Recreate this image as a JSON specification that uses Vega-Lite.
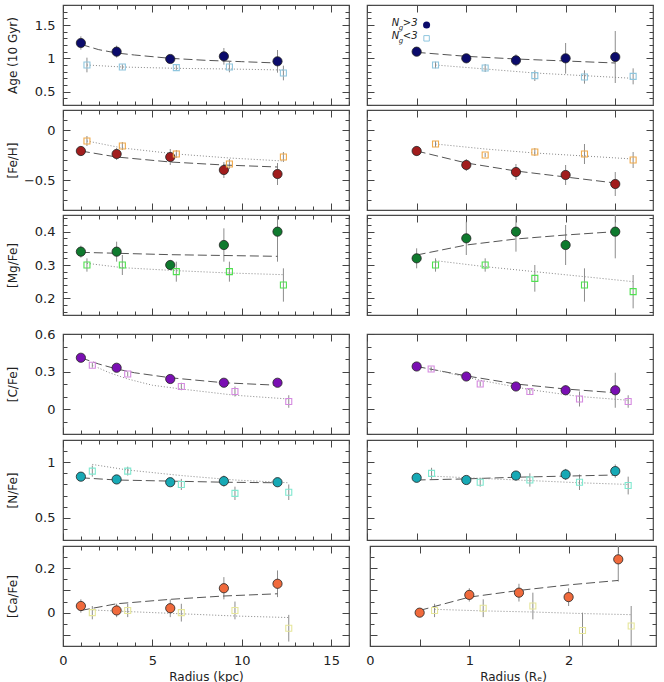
{
"$schema":"https://vega.github.io/schema/vega-lite/v6.json",
"padding":{"left":5,"top":3,"right":8,"bottom":0},
"config":{
 "view":{"stroke":"#4a4a4a","strokeWidth":1.2},
 "axis":{"domain":false,"grid":false,"tickColor":"#444","tickWidth":1,"tickSize":-7,"labelPadding":15,"labelFont":"DejaVu Sans","labelFontSize":13,"labelColor":"#222","titleFont":"DejaVu Sans","titleFontSize":12,"titleFontWeight":"normal","titleColor":"#222","minExtent":0,"titlePadding":4,"labelFlush":false,"labelOverlap":false},
 "axisLeft":{"titlePadding":12}
},
"datasets":{
"pts":[
{"q":"Age","s":"L","g":"hi","x":1,"y":1.23,"lo":1.13,"hi":1.33},
{"q":"Age","s":"L","g":"hi","x":3,"y":1.10,"lo":1.01,"hi":1.19},
{"q":"Age","s":"L","g":"hi","x":6,"y":0.99,"lo":0.95,"hi":1.03},
{"q":"Age","s":"L","g":"hi","x":9,"y":1.03,"lo":0.905,"hi":1.155},
{"q":"Age","s":"L","g":"hi","x":12,"y":0.955,"lo":0.785,"hi":1.125},
{"q":"Age","s":"L","g":"lo","x":1.34,"y":0.90,"lo":0.79,"hi":1.01},
{"q":"Age","s":"L","g":"lo","x":3.32,"y":0.87,"lo":0.83,"hi":0.91},
{"q":"Age","s":"L","g":"lo","x":6.34,"y":0.86,"lo":0.82,"hi":0.90},
{"q":"Age","s":"L","g":"lo","x":9.31,"y":0.87,"lo":0.79,"hi":0.95},
{"q":"Age","s":"L","g":"lo","x":12.33,"y":0.78,"lo":0.67,"hi":0.89},
{"q":"Age","s":"R","g":"hi","x":0.5,"y":1.10,"lo":1.04,"hi":1.16},
{"q":"Age","s":"R","g":"hi","x":1,"y":1.00,"lo":0.97,"hi":1.03},
{"q":"Age","s":"R","g":"hi","x":1.5,"y":0.97,"lo":0.88,"hi":1.06},
{"q":"Age","s":"R","g":"hi","x":2,"y":1.00,"lo":0.77,"hi":1.23},
{"q":"Age","s":"R","g":"hi","x":2.5,"y":1.02,"lo":0.63,"hi":1.41},
{"q":"Age","s":"R","g":"lo","x":0.69,"y":0.90,"lo":0.85,"hi":0.95},
{"q":"Age","s":"R","g":"lo","x":1.19,"y":0.855,"lo":0.795,"hi":0.915},
{"q":"Age","s":"R","g":"lo","x":1.69,"y":0.74,"lo":0.66,"hi":0.82},
{"q":"Age","s":"R","g":"lo","x":2.19,"y":0.72,"lo":0.62,"hi":0.82},
{"q":"Age","s":"R","g":"lo","x":2.68,"y":0.73,"lo":0.61,"hi":0.85},
{"q":"FeH","s":"L","g":"hi","x":1,"y":-0.21,"lo":-0.26,"hi":-0.16},
{"q":"FeH","s":"L","g":"hi","x":3,"y":-0.24,"lo":-0.30,"hi":-0.18},
{"q":"FeH","s":"L","g":"hi","x":6,"y":-0.27,"lo":-0.35,"hi":-0.19},
{"q":"FeH","s":"L","g":"hi","x":9,"y":-0.40,"lo":-0.48,"hi":-0.32},
{"q":"FeH","s":"L","g":"hi","x":12,"y":-0.44,"lo":-0.55,"hi":-0.33},
{"q":"FeH","s":"L","g":"lo","x":1.34,"y":-0.11,"lo":-0.16,"hi":-0.06},
{"q":"FeH","s":"L","g":"lo","x":3.32,"y":-0.16,"lo":-0.20,"hi":-0.12},
{"q":"FeH","s":"L","g":"lo","x":6.34,"y":-0.24,"lo":-0.28,"hi":-0.20},
{"q":"FeH","s":"L","g":"lo","x":9.31,"y":-0.34,"lo":-0.39,"hi":-0.29},
{"q":"FeH","s":"L","g":"lo","x":12.33,"y":-0.27,"lo":-0.32,"hi":-0.22},
{"q":"FeH","s":"R","g":"hi","x":0.5,"y":-0.21,"lo":-0.26,"hi":-0.16},
{"q":"FeH","s":"R","g":"hi","x":1,"y":-0.35,"lo":-0.41,"hi":-0.29},
{"q":"FeH","s":"R","g":"hi","x":1.5,"y":-0.42,"lo":-0.50,"hi":-0.34},
{"q":"FeH","s":"R","g":"hi","x":2,"y":-0.45,"lo":-0.55,"hi":-0.35},
{"q":"FeH","s":"R","g":"hi","x":2.5,"y":-0.54,"lo":-0.66,"hi":-0.42},
{"q":"FeH","s":"R","g":"lo","x":0.69,"y":-0.14,"lo":-0.17,"hi":-0.11},
{"q":"FeH","s":"R","g":"lo","x":1.19,"y":-0.25,"lo":-0.27,"hi":-0.23},
{"q":"FeH","s":"R","g":"lo","x":1.69,"y":-0.22,"lo":-0.26,"hi":-0.18},
{"q":"FeH","s":"R","g":"lo","x":2.19,"y":-0.24,"lo":-0.34,"hi":-0.14},
{"q":"FeH","s":"R","g":"lo","x":2.68,"y":-0.30,"lo":-0.38,"hi":-0.22},
{"q":"MgFe","s":"L","g":"hi","x":1,"y":0.34,"lo":0.322,"hi":0.358},
{"q":"MgFe","s":"L","g":"hi","x":3,"y":0.34,"lo":0.31,"hi":0.37},
{"q":"MgFe","s":"L","g":"hi","x":6,"y":0.30,"lo":0.285,"hi":0.315},
{"q":"MgFe","s":"L","g":"hi","x":9,"y":0.36,"lo":0.31,"hi":0.41},
{"q":"MgFe","s":"L","g":"hi","x":12,"y":0.40,"lo":0.31,"hi":0.49},
{"q":"MgFe","s":"L","g":"lo","x":1.34,"y":0.30,"lo":0.28,"hi":0.32},
{"q":"MgFe","s":"L","g":"lo","x":3.32,"y":0.30,"lo":0.27,"hi":0.33},
{"q":"MgFe","s":"L","g":"lo","x":6.34,"y":0.28,"lo":0.25,"hi":0.31},
{"q":"MgFe","s":"L","g":"lo","x":9.31,"y":0.28,"lo":0.25,"hi":0.31},
{"q":"MgFe","s":"L","g":"lo","x":12.33,"y":0.24,"lo":0.19,"hi":0.29},
{"q":"MgFe","s":"R","g":"hi","x":0.5,"y":0.32,"lo":0.29,"hi":0.35},
{"q":"MgFe","s":"R","g":"hi","x":1,"y":0.38,"lo":0.33,"hi":0.43},
{"q":"MgFe","s":"R","g":"hi","x":1.5,"y":0.40,"lo":0.34,"hi":0.46},
{"q":"MgFe","s":"R","g":"hi","x":2,"y":0.36,"lo":0.30,"hi":0.42},
{"q":"MgFe","s":"R","g":"hi","x":2.5,"y":0.40,"lo":0.32,"hi":0.48},
{"q":"MgFe","s":"R","g":"lo","x":0.69,"y":0.30,"lo":0.28,"hi":0.32},
{"q":"MgFe","s":"R","g":"lo","x":1.19,"y":0.30,"lo":0.28,"hi":0.32},
{"q":"MgFe","s":"R","g":"lo","x":1.69,"y":0.26,"lo":0.22,"hi":0.30},
{"q":"MgFe","s":"R","g":"lo","x":2.19,"y":0.24,"lo":0.19,"hi":0.29},
{"q":"MgFe","s":"R","g":"lo","x":2.68,"y":0.22,"lo":0.17,"hi":0.27},
{"q":"CFe","s":"L","g":"hi","x":1,"y":0.41,"lo":0.39,"hi":0.43},
{"q":"CFe","s":"L","g":"hi","x":3,"y":0.33,"lo":0.31,"hi":0.35},
{"q":"CFe","s":"L","g":"hi","x":6,"y":0.24,"lo":0.22,"hi":0.26},
{"q":"CFe","s":"L","g":"hi","x":9,"y":0.21,"lo":0.19,"hi":0.23},
{"q":"CFe","s":"L","g":"hi","x":12,"y":0.21,"lo":0.19,"hi":0.23},
{"q":"CFe","s":"L","g":"lo","x":1.64,"y":0.35,"lo":0.33,"hi":0.37},
{"q":"CFe","s":"L","g":"lo","x":3.62,"y":0.28,"lo":0.26,"hi":0.30},
{"q":"CFe","s":"L","g":"lo","x":6.62,"y":0.18,"lo":0.15,"hi":0.21},
{"q":"CFe","s":"L","g":"lo","x":9.62,"y":0.14,"lo":0.10,"hi":0.18},
{"q":"CFe","s":"L","g":"lo","x":12.63,"y":0.06,"lo":0.01,"hi":0.11},
{"q":"CFe","s":"R","g":"hi","x":0.5,"y":0.34,"lo":0.32,"hi":0.36},
{"q":"CFe","s":"R","g":"hi","x":1,"y":0.26,"lo":0.24,"hi":0.28},
{"q":"CFe","s":"R","g":"hi","x":1.5,"y":0.18,"lo":0.16,"hi":0.20},
{"q":"CFe","s":"R","g":"hi","x":2,"y":0.15,"lo":0.11,"hi":0.19},
{"q":"CFe","s":"R","g":"hi","x":2.5,"y":0.15,"lo":0.01,"hi":0.29},
{"q":"CFe","s":"R","g":"lo","x":0.646,"y":0.32,"lo":0.30,"hi":0.34},
{"q":"CFe","s":"R","g":"lo","x":1.14,"y":0.20,"lo":0.18,"hi":0.22},
{"q":"CFe","s":"R","g":"lo","x":1.64,"y":0.14,"lo":0.12,"hi":0.16},
{"q":"CFe","s":"R","g":"lo","x":2.14,"y":0.08,"lo":0.02,"hi":0.14},
{"q":"CFe","s":"R","g":"lo","x":2.63,"y":0.06,"lo":0.01,"hi":0.11},
{"q":"NFe","s":"L","g":"hi","x":1,"y":0.87,"lo":0.84,"hi":0.90},
{"q":"NFe","s":"L","g":"hi","x":3,"y":0.845,"lo":0.815,"hi":0.875},
{"q":"NFe","s":"L","g":"hi","x":6,"y":0.82,"lo":0.79,"hi":0.85},
{"q":"NFe","s":"L","g":"hi","x":9,"y":0.83,"lo":0.78,"hi":0.88},
{"q":"NFe","s":"L","g":"hi","x":12,"y":0.82,"lo":0.78,"hi":0.86},
{"q":"NFe","s":"L","g":"lo","x":1.64,"y":0.92,"lo":0.87,"hi":0.97},
{"q":"NFe","s":"L","g":"lo","x":3.62,"y":0.92,"lo":0.88,"hi":0.96},
{"q":"NFe","s":"L","g":"lo","x":6.62,"y":0.80,"lo":0.75,"hi":0.85},
{"q":"NFe","s":"L","g":"lo","x":9.62,"y":0.72,"lo":0.66,"hi":0.78},
{"q":"NFe","s":"L","g":"lo","x":12.63,"y":0.73,"lo":0.66,"hi":0.80},
{"q":"NFe","s":"R","g":"hi","x":0.5,"y":0.86,"lo":0.84,"hi":0.88},
{"q":"NFe","s":"R","g":"hi","x":1,"y":0.84,"lo":0.82,"hi":0.86},
{"q":"NFe","s":"R","g":"hi","x":1.5,"y":0.88,"lo":0.84,"hi":0.92},
{"q":"NFe","s":"R","g":"hi","x":2,"y":0.89,"lo":0.84,"hi":0.94},
{"q":"NFe","s":"R","g":"hi","x":2.5,"y":0.92,"lo":0.86,"hi":0.98},
{"q":"NFe","s":"R","g":"lo","x":0.65,"y":0.90,"lo":0.85,"hi":0.95},
{"q":"NFe","s":"R","g":"lo","x":1.14,"y":0.82,"lo":0.78,"hi":0.86},
{"q":"NFe","s":"R","g":"lo","x":1.64,"y":0.84,"lo":0.78,"hi":0.90},
{"q":"NFe","s":"R","g":"lo","x":2.14,"y":0.82,"lo":0.75,"hi":0.89},
{"q":"NFe","s":"R","g":"lo","x":2.63,"y":0.79,"lo":0.71,"hi":0.87},
{"q":"CaFe","s":"L","g":"hi","x":1,"y":0.03,"lo":0.0,"hi":0.06},
{"q":"CaFe","s":"L","g":"hi","x":3,"y":0.01,"lo":-0.02,"hi":0.04},
{"q":"CaFe","s":"L","g":"hi","x":6,"y":0.02,"lo":-0.02,"hi":0.06},
{"q":"CaFe","s":"L","g":"hi","x":9,"y":0.11,"lo":0.06,"hi":0.16},
{"q":"CaFe","s":"L","g":"hi","x":12,"y":0.13,"lo":0.07,"hi":0.19},
{"q":"CaFe","s":"L","g":"lo","x":1.64,"y":0.0,"lo":-0.03,"hi":0.03},
{"q":"CaFe","s":"L","g":"lo","x":3.62,"y":0.01,"lo":-0.02,"hi":0.04},
{"q":"CaFe","s":"L","g":"lo","x":6.62,"y":0.0,"lo":-0.04,"hi":0.04},
{"q":"CaFe","s":"L","g":"lo","x":9.62,"y":0.01,"lo":-0.03,"hi":0.05},
{"q":"CaFe","s":"L","g":"lo","x":12.63,"y":-0.07,"lo":-0.13,"hi":-0.01},
{"q":"CaFe","s":"R","g":"hi","x":0.5,"y":0.0,"lo":-0.01,"hi":0.01},
{"q":"CaFe","s":"R","g":"hi","x":1,"y":0.08,"lo":0.05,"hi":0.11},
{"q":"CaFe","s":"R","g":"hi","x":1.5,"y":0.09,"lo":0.05,"hi":0.13},
{"q":"CaFe","s":"R","g":"hi","x":2,"y":0.07,"lo":0.03,"hi":0.11},
{"q":"CaFe","s":"R","g":"hi","x":2.5,"y":0.24,"lo":0.14,"hi":0.34},
{"q":"CaFe","s":"R","g":"lo","x":0.65,"y":0.01,"lo":-0.02,"hi":0.04},
{"q":"CaFe","s":"R","g":"lo","x":1.14,"y":0.02,"lo":-0.02,"hi":0.06},
{"q":"CaFe","s":"R","g":"lo","x":1.64,"y":0.03,"lo":-0.03,"hi":0.09},
{"q":"CaFe","s":"R","g":"lo","x":2.14,"y":-0.08,"lo":-0.16,"hi":0.0},
{"q":"CaFe","s":"R","g":"lo","x":2.63,"y":-0.06,"lo":-0.15,"hi":0.03}
],
"fit":[
{"q":"Age","s":"L","g":"hi","x":1,"y":1.21},{"q":"Age","s":"L","g":"hi","x":2,"y":1.13},{"q":"Age","s":"L","g":"hi","x":3,"y":1.08},{"q":"Age","s":"L","g":"hi","x":4,"y":1.05},{"q":"Age","s":"L","g":"hi","x":6,"y":1.00},{"q":"Age","s":"L","g":"hi","x":8,"y":0.97},{"q":"Age","s":"L","g":"hi","x":10,"y":0.95},{"q":"Age","s":"L","g":"hi","x":12,"y":0.93},
{"q":"Age","s":"L","g":"lo","x":1.34,"y":0.90},{"q":"Age","s":"L","g":"lo","x":3.32,"y":0.87},{"q":"Age","s":"L","g":"lo","x":6.34,"y":0.85},{"q":"Age","s":"L","g":"lo","x":9.31,"y":0.84},{"q":"Age","s":"L","g":"lo","x":12.33,"y":0.825},
{"q":"Age","s":"R","g":"hi","x":0.5,"y":1.09},{"q":"Age","s":"R","g":"hi","x":1,"y":1.03},{"q":"Age","s":"R","g":"hi","x":1.5,"y":0.99},{"q":"Age","s":"R","g":"hi","x":2,"y":0.96},{"q":"Age","s":"R","g":"hi","x":2.5,"y":0.93},
{"q":"Age","s":"R","g":"lo","x":0.69,"y":0.90},{"q":"Age","s":"R","g":"lo","x":1.19,"y":0.84},{"q":"Age","s":"R","g":"lo","x":1.69,"y":0.78},{"q":"Age","s":"R","g":"lo","x":2.19,"y":0.74},{"q":"Age","s":"R","g":"lo","x":2.68,"y":0.70},
{"q":"FeH","s":"L","g":"hi","x":1,"y":-0.21},{"q":"FeH","s":"L","g":"hi","x":3,"y":-0.27},{"q":"FeH","s":"L","g":"hi","x":6,"y":-0.32},{"q":"FeH","s":"L","g":"hi","x":9,"y":-0.35},{"q":"FeH","s":"L","g":"hi","x":12,"y":-0.37},
{"q":"FeH","s":"L","g":"lo","x":1.34,"y":-0.11},{"q":"FeH","s":"L","g":"lo","x":3.32,"y":-0.18},{"q":"FeH","s":"L","g":"lo","x":6.34,"y":-0.24},{"q":"FeH","s":"L","g":"lo","x":9.31,"y":-0.28},{"q":"FeH","s":"L","g":"lo","x":12.33,"y":-0.31},
{"q":"FeH","s":"R","g":"hi","x":0.5,"y":-0.21},{"q":"FeH","s":"R","g":"hi","x":1,"y":-0.33},{"q":"FeH","s":"R","g":"hi","x":1.5,"y":-0.41},{"q":"FeH","s":"R","g":"hi","x":2,"y":-0.47},{"q":"FeH","s":"R","g":"hi","x":2.5,"y":-0.53},
{"q":"FeH","s":"R","g":"lo","x":0.69,"y":-0.14},{"q":"FeH","s":"R","g":"lo","x":1.19,"y":-0.19},{"q":"FeH","s":"R","g":"lo","x":1.69,"y":-0.23},{"q":"FeH","s":"R","g":"lo","x":2.19,"y":-0.26},{"q":"FeH","s":"R","g":"lo","x":2.68,"y":-0.29},
{"q":"MgFe","s":"L","g":"hi","x":1,"y":0.338},{"q":"MgFe","s":"L","g":"hi","x":6,"y":0.331},{"q":"MgFe","s":"L","g":"hi","x":12,"y":0.326},
{"q":"MgFe","s":"L","g":"lo","x":1.34,"y":0.305},{"q":"MgFe","s":"L","g":"lo","x":3.32,"y":0.292},{"q":"MgFe","s":"L","g":"lo","x":6.34,"y":0.283},{"q":"MgFe","s":"L","g":"lo","x":9.31,"y":0.276},{"q":"MgFe","s":"L","g":"lo","x":12.33,"y":0.271},
{"q":"MgFe","s":"R","g":"hi","x":0.5,"y":0.33},{"q":"MgFe","s":"R","g":"hi","x":1,"y":0.36},{"q":"MgFe","s":"R","g":"hi","x":1.5,"y":0.378},{"q":"MgFe","s":"R","g":"hi","x":2,"y":0.39},{"q":"MgFe","s":"R","g":"hi","x":2.5,"y":0.40},
{"q":"MgFe","s":"R","g":"lo","x":0.69,"y":0.313},{"q":"MgFe","s":"R","g":"lo","x":1.19,"y":0.295},{"q":"MgFe","s":"R","g":"lo","x":1.69,"y":0.28},{"q":"MgFe","s":"R","g":"lo","x":2.19,"y":0.265},{"q":"MgFe","s":"R","g":"lo","x":2.68,"y":0.25},
{"q":"CFe","s":"L","g":"hi","x":1,"y":0.41},{"q":"CFe","s":"L","g":"hi","x":2,"y":0.36},{"q":"CFe","s":"L","g":"hi","x":3,"y":0.32},{"q":"CFe","s":"L","g":"hi","x":4,"y":0.29},{"q":"CFe","s":"L","g":"hi","x":6,"y":0.25},{"q":"CFe","s":"L","g":"hi","x":9,"y":0.21},{"q":"CFe","s":"L","g":"hi","x":12,"y":0.19},
{"q":"CFe","s":"L","g":"lo","x":1.64,"y":0.35},{"q":"CFe","s":"L","g":"lo","x":2.6,"y":0.29},{"q":"CFe","s":"L","g":"lo","x":3.62,"y":0.24},{"q":"CFe","s":"L","g":"lo","x":5,"y":0.19},{"q":"CFe","s":"L","g":"lo","x":6.62,"y":0.16},{"q":"CFe","s":"L","g":"lo","x":9.62,"y":0.11},{"q":"CFe","s":"L","g":"lo","x":12.63,"y":0.08},
{"q":"CFe","s":"R","g":"hi","x":0.5,"y":0.34},{"q":"CFe","s":"R","g":"hi","x":1,"y":0.265},{"q":"CFe","s":"R","g":"hi","x":1.5,"y":0.20},{"q":"CFe","s":"R","g":"hi","x":2,"y":0.16},{"q":"CFe","s":"R","g":"hi","x":2.5,"y":0.13},
{"q":"CFe","s":"R","g":"lo","x":0.646,"y":0.32},{"q":"CFe","s":"R","g":"lo","x":1.14,"y":0.23},{"q":"CFe","s":"R","g":"lo","x":1.64,"y":0.155},{"q":"CFe","s":"R","g":"lo","x":2.14,"y":0.10},{"q":"CFe","s":"R","g":"lo","x":2.63,"y":0.07},
{"q":"NFe","s":"L","g":"hi","x":1,"y":0.86},{"q":"NFe","s":"L","g":"hi","x":3,"y":0.84},{"q":"NFe","s":"L","g":"hi","x":6,"y":0.83},{"q":"NFe","s":"L","g":"hi","x":9,"y":0.82},{"q":"NFe","s":"L","g":"hi","x":12,"y":0.815},
{"q":"NFe","s":"L","g":"lo","x":1.64,"y":0.98},{"q":"NFe","s":"L","g":"lo","x":3.62,"y":0.93},{"q":"NFe","s":"L","g":"lo","x":6.62,"y":0.88},{"q":"NFe","s":"L","g":"lo","x":9.62,"y":0.84},{"q":"NFe","s":"L","g":"lo","x":12.63,"y":0.815},
{"q":"NFe","s":"R","g":"hi","x":0.5,"y":0.84},{"q":"NFe","s":"R","g":"hi","x":1,"y":0.85},{"q":"NFe","s":"R","g":"hi","x":1.5,"y":0.865},{"q":"NFe","s":"R","g":"hi","x":2,"y":0.875},{"q":"NFe","s":"R","g":"hi","x":2.5,"y":0.885},
{"q":"NFe","s":"R","g":"lo","x":0.65,"y":0.875},{"q":"NFe","s":"R","g":"lo","x":1.14,"y":0.855},{"q":"NFe","s":"R","g":"lo","x":1.64,"y":0.835},{"q":"NFe","s":"R","g":"lo","x":2.14,"y":0.815},{"q":"NFe","s":"R","g":"lo","x":2.63,"y":0.80},
{"q":"CaFe","s":"L","g":"hi","x":1,"y":0.01},{"q":"CaFe","s":"L","g":"hi","x":3,"y":0.04},{"q":"CaFe","s":"L","g":"hi","x":6,"y":0.06},{"q":"CaFe","s":"L","g":"hi","x":9,"y":0.075},{"q":"CaFe","s":"L","g":"hi","x":12,"y":0.085},
{"q":"CaFe","s":"L","g":"lo","x":1.64,"y":0.012},{"q":"CaFe","s":"L","g":"lo","x":3.62,"y":0.005},{"q":"CaFe","s":"L","g":"lo","x":6.62,"y":-0.005},{"q":"CaFe","s":"L","g":"lo","x":9.62,"y":-0.015},{"q":"CaFe","s":"L","g":"lo","x":12.63,"y":-0.022},
{"q":"CaFe","s":"R","g":"hi","x":0.5,"y":0.01},{"q":"CaFe","s":"R","g":"hi","x":1,"y":0.07},{"q":"CaFe","s":"R","g":"hi","x":1.5,"y":0.10},{"q":"CaFe","s":"R","g":"hi","x":2,"y":0.125},{"q":"CaFe","s":"R","g":"hi","x":2.5,"y":0.145},
{"q":"CaFe","s":"R","g":"lo","x":0.65,"y":0.015},{"q":"CaFe","s":"R","g":"lo","x":1.14,"y":0.008},{"q":"CaFe","s":"R","g":"lo","x":1.64,"y":0.003},{"q":"CaFe","s":"R","g":"lo","x":2.14,"y":-0.004},{"q":"CaFe","s":"R","g":"lo","x":2.63,"y":-0.009}
],
"leg":[
{"k":"t","t":"N","x":0.25,"y":1.53},{"k":"u","t":"g","x":0.32,"y":1.455},{"k":"t","t":">3","x":0.36,"y":1.53},
{"k":"t","t":"N","x":0.25,"y":1.33},{"k":"u","t":"g","x":0.32,"y":1.255},{"k":"t","t":"<3","x":0.36,"y":1.33},
{"k":"c","t":"","x":0.6,"y":1.50},{"k":"s","t":"","x":0.6,"y":1.30}
]
},
"spacing":10,
"vconcat":[
{"spacing":1,"vconcat":[
{"spacing":14,"hconcat":[
{"width":286,"height":100,"resolve":{"axis":{"x":"independent","y":"independent"}},"layer":[
{"data":{"name":"pts"},"transform":[{"filter":"datum.q==='Age'&&datum.s==='L'"}],"mark":{"type":"rule","color":"#8c8c8c","strokeWidth":1,"clip":true},
 "encoding":{"x":{"field":"x","type":"quantitative","scale":{"domain":[0,16],"nice":false,"zero":false},"axis":{"orient":"bottom","values":[0,5,10,15],"labels":false,"title":null}},
 "y":{"field":"lo","type":"quantitative","scale":{"domain":[0.3,1.8],"nice":false,"zero":false},"axis":{"orient":"left","values":[0.5,1,1.5],"format":"~g","title":"Age (10 Gyr)","minExtent":32,"maxExtent":32}},"y2":{"field":"hi"}}},
{"data":{"name":"fit"},"transform":[{"filter":"datum.q==='Age'&&datum.s==='L'&&datum.g==='hi'"}],"mark":{"type":"line","color":"#555","strokeWidth":1,"strokeDash":[9,4],"clip":true},
 "encoding":{"x":{"field":"x","type":"quantitative","axis":{"orient":"top","values":[0,5,10,15],"labels":false,"title":null}},"y":{"field":"y","type":"quantitative","axis":{"orient":"right","values":[0.5,1,1.5],"labels":false,"title":null}}}},
{"data":{"name":"fit"},"transform":[{"filter":"datum.q==='Age'&&datum.s==='L'&&datum.g==='lo'"}],"mark":{"type":"line","color":"#888","strokeWidth":1,"strokeDash":[1,2],"clip":true},
 "encoding":{"x":{"field":"x","type":"quantitative","axis":{"orient":"bottom","values":[0,1,2,3,4,5,6,7,8,9,10,11,12,13,14,15,16],"labels":false,"title":null,"tickSize":-4}},"y":{"field":"y","type":"quantitative","axis":{"orient":"left","values":[0.3,0.4,0.5,0.6,0.7,0.8,0.9,1,1.1,1.2,1.3,1.4,1.5,1.6,1.7,1.8],"labels":false,"title":null,"tickSize":-4}}}},
{"data":{"name":"pts"},"transform":[{"filter":"datum.q==='Age'&&datum.s==='L'&&datum.g==='hi'"}],"mark":{"type":"circle","size":85,"color":"#0b0b6b","opacity":1,"stroke":"#222","strokeWidth":0.8},
 "encoding":{"x":{"field":"x","type":"quantitative","axis":{"orient":"top","values":[0,1,2,3,4,5,6,7,8,9,10,11,12,13,14,15,16],"labels":false,"title":null,"tickSize":-4}},"y":{"field":"y","type":"quantitative","axis":{"orient":"right","values":[0.3,0.4,0.5,0.6,0.7,0.8,0.9,1,1.1,1.2,1.3,1.4,1.5,1.6,1.7,1.8],"labels":false,"title":null,"tickSize":-4}}}},
{"data":{"name":"pts"},"transform":[{"filter":"datum.q==='Age'&&datum.s==='L'&&datum.g==='lo'"}],"mark":{"type":"square","filled":false,"size":36,"color":"#8fc6de","opacity":1,"strokeWidth":1.1},
 "encoding":{"x":{"field":"x","type":"quantitative","axis":null},"y":{"field":"y","type":"quantitative","axis":null}}}
]},
{"width":286,"height":100,"resolve":{"axis":{"x":"independent","y":"independent"}},"layer":[
{"data":{"name":"pts"},"transform":[{"filter":"datum.q==='Age'&&datum.s==='R'"}],"mark":{"type":"rule","color":"#8c8c8c","strokeWidth":1,"clip":true},
 "encoding":{"x":{"field":"x","type":"quantitative","scale":{"domain":[0,2.88],"nice":false,"zero":false},"axis":{"orient":"bottom","values":[0,0.5,1,1.5,2,2.5],"labels":false,"title":null}},
 "y":{"field":"lo","type":"quantitative","scale":{"domain":[0.3,1.8],"nice":false,"zero":false},"axis":{"orient":"left","values":[0.5,1,1.5],"labels":false,"title":null}},"y2":{"field":"hi"}}},
{"data":{"name":"fit"},"transform":[{"filter":"datum.q==='Age'&&datum.s==='R'&&datum.g==='hi'"}],"mark":{"type":"line","color":"#555","strokeWidth":1,"strokeDash":[9,4],"clip":true},
 "encoding":{"x":{"field":"x","type":"quantitative","axis":{"orient":"top","values":[0,0.5,1,1.5,2,2.5],"labels":false,"title":null}},"y":{"field":"y","type":"quantitative","axis":{"orient":"right","values":[0.5,1,1.5],"labels":false,"title":null}}}},
{"data":{"name":"fit"},"transform":[{"filter":"datum.q==='Age'&&datum.s==='R'&&datum.g==='lo'"}],"mark":{"type":"line","color":"#888","strokeWidth":1,"strokeDash":[1,2],"clip":true},
 "encoding":{"x":{"field":"x","type":"quantitative","axis":null},"y":{"field":"y","type":"quantitative","axis":{"orient":"left","values":[0.3,0.4,0.5,0.6,0.7,0.8,0.9,1,1.1,1.2,1.3,1.4,1.5,1.6,1.7,1.8],"labels":false,"title":null,"tickSize":-4}}}},
{"data":{"name":"pts"},"transform":[{"filter":"datum.q==='Age'&&datum.s==='R'&&datum.g==='hi'"}],"mark":{"type":"circle","size":85,"color":"#0b0b6b","opacity":1,"stroke":"#222","strokeWidth":0.8},
 "encoding":{"x":{"field":"x","type":"quantitative","axis":null},"y":{"field":"y","type":"quantitative","axis":{"orient":"right","values":[0.3,0.4,0.5,0.6,0.7,0.8,0.9,1,1.1,1.2,1.3,1.4,1.5,1.6,1.7,1.8],"labels":false,"title":null,"tickSize":-4}}}},
{"data":{"name":"pts"},"transform":[{"filter":"datum.q==='Age'&&datum.s==='R'&&datum.g==='lo'"}],"mark":{"type":"square","filled":false,"size":36,"color":"#8fc6de","opacity":1,"strokeWidth":1.1},
 "encoding":{"x":{"field":"x","type":"quantitative","axis":null},"y":{"field":"y","type":"quantitative","axis":null}}},
{"data":{"name":"leg"},"transform":[{"filter":"datum.k==='t'"}],"mark":{"type":"text","font":"DejaVu Sans","fontStyle":"italic","fontSize":10,"align":"left","baseline":"middle","color":"#222"},
 "encoding":{"x":{"field":"x","type":"quantitative","axis":null},"y":{"field":"y","type":"quantitative","axis":null},"text":{"field":"t"}}},
{"data":{"name":"leg"},"transform":[{"filter":"datum.k==='u'"}],"mark":{"type":"text","font":"DejaVu Sans","fontStyle":"italic","fontSize":7,"align":"left","baseline":"middle","color":"#222"},
 "encoding":{"x":{"field":"x","type":"quantitative","axis":null},"y":{"field":"y","type":"quantitative","axis":null},"text":{"field":"t"}}},
{"data":{"name":"leg"},"transform":[{"filter":"datum.k==='c'"}],"mark":{"type":"circle","size":50,"color":"#0b0b6b","opacity":1},
 "encoding":{"x":{"field":"x","type":"quantitative","axis":null},"y":{"field":"y","type":"quantitative","axis":null}}},
{"data":{"name":"leg"},"transform":[{"filter":"datum.k==='s'"}],"mark":{"type":"square","filled":false,"size":30,"color":"#8fc6de","opacity":1,"strokeWidth":1},
 "encoding":{"x":{"field":"x","type":"quantitative","axis":null},"y":{"field":"y","type":"quantitative","axis":null}}}
]}
]},
{"spacing":14,"hconcat":[
{"width":286,"height":100,"resolve":{"axis":{"x":"independent","y":"independent"}},"layer":[
{"data":{"name":"pts"},"transform":[{"filter":"datum.q==='FeH'&&datum.s==='L'"}],"mark":{"type":"rule","color":"#8c8c8c","strokeWidth":1,"clip":true},
 "encoding":{"x":{"field":"x","type":"quantitative","scale":{"domain":[0,16],"nice":false,"zero":false},"axis":{"orient":"bottom","values":[0,5,10,15],"labels":false,"title":null}},
 "y":{"field":"lo","type":"quantitative","scale":{"domain":[-0.8,0.2],"nice":false,"zero":false},"axis":{"orient":"left","values":[-0.5,0],"format":"~g","title":"[Fe/H]","minExtent":32,"maxExtent":32}},"y2":{"field":"hi"}}},
{"data":{"name":"fit"},"transform":[{"filter":"datum.q==='FeH'&&datum.s==='L'&&datum.g==='hi'"}],"mark":{"type":"line","color":"#555","strokeWidth":1,"strokeDash":[9,4],"clip":true},
 "encoding":{"x":{"field":"x","type":"quantitative","axis":{"orient":"top","values":[0,5,10,15],"labels":false,"title":null}},"y":{"field":"y","type":"quantitative","axis":{"orient":"right","values":[-0.5,0],"labels":false,"title":null}}}},
{"data":{"name":"fit"},"transform":[{"filter":"datum.q==='FeH'&&datum.s==='L'&&datum.g==='lo'"}],"mark":{"type":"line","color":"#888","strokeWidth":1,"strokeDash":[1,2],"clip":true},
 "encoding":{"x":{"field":"x","type":"quantitative","axis":{"orient":"bottom","values":[0,1,2,3,4,5,6,7,8,9,10,11,12,13,14,15,16],"labels":false,"title":null,"tickSize":-4}},"y":{"field":"y","type":"quantitative","axis":{"orient":"left","values":[-0.8,-0.7,-0.6,-0.5,-0.4,-0.3,-0.2,-0.1,0,0.1,0.2],"labels":false,"title":null,"tickSize":-4}}}},
{"data":{"name":"pts"},"transform":[{"filter":"datum.q==='FeH'&&datum.s==='L'&&datum.g==='hi'"}],"mark":{"type":"circle","size":85,"color":"#a11d1d","opacity":1,"stroke":"#222","strokeWidth":0.8},
 "encoding":{"x":{"field":"x","type":"quantitative","axis":{"orient":"top","values":[0,1,2,3,4,5,6,7,8,9,10,11,12,13,14,15,16],"labels":false,"title":null,"tickSize":-4}},"y":{"field":"y","type":"quantitative","axis":{"orient":"right","values":[-0.8,-0.7,-0.6,-0.5,-0.4,-0.3,-0.2,-0.1,0,0.1,0.2],"labels":false,"title":null,"tickSize":-4}}}},
{"data":{"name":"pts"},"transform":[{"filter":"datum.q==='FeH'&&datum.s==='L'&&datum.g==='lo'"}],"mark":{"type":"square","filled":false,"size":36,"color":"#f0a94a","opacity":1,"strokeWidth":1.1},
 "encoding":{"x":{"field":"x","type":"quantitative","axis":null},"y":{"field":"y","type":"quantitative","axis":null}}}
]},
{"width":286,"height":100,"resolve":{"axis":{"x":"independent","y":"independent"}},"layer":[
{"data":{"name":"pts"},"transform":[{"filter":"datum.q==='FeH'&&datum.s==='R'"}],"mark":{"type":"rule","color":"#8c8c8c","strokeWidth":1,"clip":true},
 "encoding":{"x":{"field":"x","type":"quantitative","scale":{"domain":[0,2.88],"nice":false,"zero":false},"axis":{"orient":"bottom","values":[0,0.5,1,1.5,2,2.5],"labels":false,"title":null}},
 "y":{"field":"lo","type":"quantitative","scale":{"domain":[-0.8,0.2],"nice":false,"zero":false},"axis":{"orient":"left","values":[-0.5,0],"labels":false,"title":null}},"y2":{"field":"hi"}}},
{"data":{"name":"fit"},"transform":[{"filter":"datum.q==='FeH'&&datum.s==='R'&&datum.g==='hi'"}],"mark":{"type":"line","color":"#555","strokeWidth":1,"strokeDash":[9,4],"clip":true},
 "encoding":{"x":{"field":"x","type":"quantitative","axis":{"orient":"top","values":[0,0.5,1,1.5,2,2.5],"labels":false,"title":null}},"y":{"field":"y","type":"quantitative","axis":{"orient":"right","values":[-0.5,0],"labels":false,"title":null}}}},
{"data":{"name":"fit"},"transform":[{"filter":"datum.q==='FeH'&&datum.s==='R'&&datum.g==='lo'"}],"mark":{"type":"line","color":"#888","strokeWidth":1,"strokeDash":[1,2],"clip":true},
 "encoding":{"x":{"field":"x","type":"quantitative","axis":null},"y":{"field":"y","type":"quantitative","axis":{"orient":"left","values":[-0.8,-0.7,-0.6,-0.5,-0.4,-0.3,-0.2,-0.1,0,0.1,0.2],"labels":false,"title":null,"tickSize":-4}}}},
{"data":{"name":"pts"},"transform":[{"filter":"datum.q==='FeH'&&datum.s==='R'&&datum.g==='hi'"}],"mark":{"type":"circle","size":85,"color":"#a11d1d","opacity":1,"stroke":"#222","strokeWidth":0.8},
 "encoding":{"x":{"field":"x","type":"quantitative","axis":null},"y":{"field":"y","type":"quantitative","axis":{"orient":"right","values":[-0.8,-0.7,-0.6,-0.5,-0.4,-0.3,-0.2,-0.1,0,0.1,0.2],"labels":false,"title":null,"tickSize":-4}}}},
{"data":{"name":"pts"},"transform":[{"filter":"datum.q==='FeH'&&datum.s==='R'&&datum.g==='lo'"}],"mark":{"type":"square","filled":false,"size":36,"color":"#f0a94a","opacity":1,"strokeWidth":1.1},
 "encoding":{"x":{"field":"x","type":"quantitative","axis":null},"y":{"field":"y","type":"quantitative","axis":null}}}
]}
]},
{"spacing":14,"hconcat":[
{"width":286,"height":100,"resolve":{"axis":{"x":"independent","y":"independent"}},"layer":[
{"data":{"name":"pts"},"transform":[{"filter":"datum.q==='MgFe'&&datum.s==='L'"}],"mark":{"type":"rule","color":"#8c8c8c","strokeWidth":1,"clip":true},
 "encoding":{"x":{"field":"x","type":"quantitative","scale":{"domain":[0,16],"nice":false,"zero":false},"axis":{"orient":"bottom","values":[0,5,10,15],"labels":false,"title":null}},
 "y":{"field":"lo","type":"quantitative","scale":{"domain":[0.15,0.45],"nice":false,"zero":false},"axis":{"orient":"left","values":[0.2,0.3,0.4],"format":"~g","title":"[Mg/Fe]","minExtent":32,"maxExtent":32}},"y2":{"field":"hi"}}},
{"data":{"name":"fit"},"transform":[{"filter":"datum.q==='MgFe'&&datum.s==='L'&&datum.g==='hi'"}],"mark":{"type":"line","color":"#555","strokeWidth":1,"strokeDash":[9,4],"clip":true},
 "encoding":{"x":{"field":"x","type":"quantitative","axis":{"orient":"top","values":[0,5,10,15],"labels":false,"title":null}},"y":{"field":"y","type":"quantitative","axis":{"orient":"right","values":[0.2,0.3,0.4],"labels":false,"title":null}}}},
{"data":{"name":"fit"},"transform":[{"filter":"datum.q==='MgFe'&&datum.s==='L'&&datum.g==='lo'"}],"mark":{"type":"line","color":"#888","strokeWidth":1,"strokeDash":[1,2],"clip":true},
 "encoding":{"x":{"field":"x","type":"quantitative","axis":{"orient":"bottom","values":[0,1,2,3,4,5,6,7,8,9,10,11,12,13,14,15,16],"labels":false,"title":null,"tickSize":-4}},"y":{"field":"y","type":"quantitative","axis":{"orient":"left","values":[0.16,0.18,0.2,0.22,0.24,0.26,0.28,0.3,0.32,0.34,0.36,0.38,0.4,0.42,0.44],"labels":false,"title":null,"tickSize":-4}}}},
{"data":{"name":"pts"},"transform":[{"filter":"datum.q==='MgFe'&&datum.s==='L'&&datum.g==='hi'"}],"mark":{"type":"circle","size":85,"color":"#0f7a2e","opacity":1,"stroke":"#222","strokeWidth":0.8},
 "encoding":{"x":{"field":"x","type":"quantitative","axis":{"orient":"top","values":[0,1,2,3,4,5,6,7,8,9,10,11,12,13,14,15,16],"labels":false,"title":null,"tickSize":-4}},"y":{"field":"y","type":"quantitative","axis":{"orient":"right","values":[0.16,0.18,0.2,0.22,0.24,0.26,0.28,0.3,0.32,0.34,0.36,0.38,0.4,0.42,0.44],"labels":false,"title":null,"tickSize":-4}}}},
{"data":{"name":"pts"},"transform":[{"filter":"datum.q==='MgFe'&&datum.s==='L'&&datum.g==='lo'"}],"mark":{"type":"square","filled":false,"size":36,"color":"#4fe04f","opacity":1,"strokeWidth":1.1},
 "encoding":{"x":{"field":"x","type":"quantitative","axis":null},"y":{"field":"y","type":"quantitative","axis":null}}}
]},
{"width":286,"height":100,"resolve":{"axis":{"x":"independent","y":"independent"}},"layer":[
{"data":{"name":"pts"},"transform":[{"filter":"datum.q==='MgFe'&&datum.s==='R'"}],"mark":{"type":"rule","color":"#8c8c8c","strokeWidth":1,"clip":true},
 "encoding":{"x":{"field":"x","type":"quantitative","scale":{"domain":[0,2.88],"nice":false,"zero":false},"axis":{"orient":"bottom","values":[0,0.5,1,1.5,2,2.5],"labels":false,"title":null}},
 "y":{"field":"lo","type":"quantitative","scale":{"domain":[0.15,0.45],"nice":false,"zero":false},"axis":{"orient":"left","values":[0.2,0.3,0.4],"labels":false,"title":null}},"y2":{"field":"hi"}}},
{"data":{"name":"fit"},"transform":[{"filter":"datum.q==='MgFe'&&datum.s==='R'&&datum.g==='hi'"}],"mark":{"type":"line","color":"#555","strokeWidth":1,"strokeDash":[9,4],"clip":true},
 "encoding":{"x":{"field":"x","type":"quantitative","axis":{"orient":"top","values":[0,0.5,1,1.5,2,2.5],"labels":false,"title":null}},"y":{"field":"y","type":"quantitative","axis":{"orient":"right","values":[0.2,0.3,0.4],"labels":false,"title":null}}}},
{"data":{"name":"fit"},"transform":[{"filter":"datum.q==='MgFe'&&datum.s==='R'&&datum.g==='lo'"}],"mark":{"type":"line","color":"#888","strokeWidth":1,"strokeDash":[1,2],"clip":true},
 "encoding":{"x":{"field":"x","type":"quantitative","axis":null},"y":{"field":"y","type":"quantitative","axis":{"orient":"left","values":[0.16,0.18,0.2,0.22,0.24,0.26,0.28,0.3,0.32,0.34,0.36,0.38,0.4,0.42,0.44],"labels":false,"title":null,"tickSize":-4}}}},
{"data":{"name":"pts"},"transform":[{"filter":"datum.q==='MgFe'&&datum.s==='R'&&datum.g==='hi'"}],"mark":{"type":"circle","size":85,"color":"#0f7a2e","opacity":1,"stroke":"#222","strokeWidth":0.8},
 "encoding":{"x":{"field":"x","type":"quantitative","axis":null},"y":{"field":"y","type":"quantitative","axis":{"orient":"right","values":[0.16,0.18,0.2,0.22,0.24,0.26,0.28,0.3,0.32,0.34,0.36,0.38,0.4,0.42,0.44],"labels":false,"title":null,"tickSize":-4}}}},
{"data":{"name":"pts"},"transform":[{"filter":"datum.q==='MgFe'&&datum.s==='R'&&datum.g==='lo'"}],"mark":{"type":"square","filled":false,"size":36,"color":"#4fe04f","opacity":1,"strokeWidth":1.1},
 "encoding":{"x":{"field":"x","type":"quantitative","axis":null},"y":{"field":"y","type":"quantitative","axis":null}}}
]}
]}
]},
{"spacing":2,"vconcat":[
{"spacing":14,"hconcat":[
{"width":286,"height":100,"resolve":{"axis":{"x":"independent","y":"independent"}},"layer":[
{"data":{"name":"pts"},"transform":[{"filter":"datum.q==='CFe'&&datum.s==='L'"}],"mark":{"type":"rule","color":"#8c8c8c","strokeWidth":1,"clip":true},
 "encoding":{"x":{"field":"x","type":"quantitative","scale":{"domain":[0,16],"nice":false,"zero":false},"axis":{"orient":"bottom","values":[0,5,10,15],"labels":false,"title":null}},
 "y":{"field":"lo","type":"quantitative","scale":{"domain":[-0.2,0.6],"nice":false,"zero":false},"axis":{"orient":"left","values":[0,0.3,0.6],"format":"~g","title":"[C/Fe]","minExtent":32,"maxExtent":32}},"y2":{"field":"hi"}}},
{"data":{"name":"fit"},"transform":[{"filter":"datum.q==='CFe'&&datum.s==='L'&&datum.g==='hi'"}],"mark":{"type":"line","color":"#555","strokeWidth":1,"strokeDash":[9,4],"clip":true},
 "encoding":{"x":{"field":"x","type":"quantitative","axis":{"orient":"top","values":[0,5,10,15],"labels":false,"title":null}},"y":{"field":"y","type":"quantitative","axis":{"orient":"right","values":[0,0.3,0.6],"labels":false,"title":null}}}},
{"data":{"name":"fit"},"transform":[{"filter":"datum.q==='CFe'&&datum.s==='L'&&datum.g==='lo'"}],"mark":{"type":"line","color":"#888","strokeWidth":1,"strokeDash":[1,2],"clip":true},
 "encoding":{"x":{"field":"x","type":"quantitative","axis":{"orient":"bottom","values":[0,1,2,3,4,5,6,7,8,9,10,11,12,13,14,15,16],"labels":false,"title":null,"tickSize":-4}},"y":{"field":"y","type":"quantitative","axis":{"orient":"left","values":[-0.2,-0.1,0,0.1,0.2,0.3,0.4,0.5,0.6],"labels":false,"title":null,"tickSize":-4}}}},
{"data":{"name":"pts"},"transform":[{"filter":"datum.q==='CFe'&&datum.s==='L'&&datum.g==='hi'"}],"mark":{"type":"circle","size":85,"color":"#7a0fb3","opacity":1,"stroke":"#222","strokeWidth":0.8},
 "encoding":{"x":{"field":"x","type":"quantitative","axis":{"orient":"top","values":[0,1,2,3,4,5,6,7,8,9,10,11,12,13,14,15,16],"labels":false,"title":null,"tickSize":-4}},"y":{"field":"y","type":"quantitative","axis":{"orient":"right","values":[-0.2,-0.1,0,0.1,0.2,0.3,0.4,0.5,0.6],"labels":false,"title":null,"tickSize":-4}}}},
{"data":{"name":"pts"},"transform":[{"filter":"datum.q==='CFe'&&datum.s==='L'&&datum.g==='lo'"}],"mark":{"type":"square","filled":false,"size":36,"color":"#d58ae0","opacity":1,"strokeWidth":1.1},
 "encoding":{"x":{"field":"x","type":"quantitative","axis":null},"y":{"field":"y","type":"quantitative","axis":null}}}
]},
{"width":286,"height":100,"resolve":{"axis":{"x":"independent","y":"independent"}},"layer":[
{"data":{"name":"pts"},"transform":[{"filter":"datum.q==='CFe'&&datum.s==='R'"}],"mark":{"type":"rule","color":"#8c8c8c","strokeWidth":1,"clip":true},
 "encoding":{"x":{"field":"x","type":"quantitative","scale":{"domain":[0,2.88],"nice":false,"zero":false},"axis":{"orient":"bottom","values":[0,0.5,1,1.5,2,2.5],"labels":false,"title":null}},
 "y":{"field":"lo","type":"quantitative","scale":{"domain":[-0.2,0.6],"nice":false,"zero":false},"axis":{"orient":"left","values":[0,0.3,0.6],"labels":false,"title":null}},"y2":{"field":"hi"}}},
{"data":{"name":"fit"},"transform":[{"filter":"datum.q==='CFe'&&datum.s==='R'&&datum.g==='hi'"}],"mark":{"type":"line","color":"#555","strokeWidth":1,"strokeDash":[9,4],"clip":true},
 "encoding":{"x":{"field":"x","type":"quantitative","axis":{"orient":"top","values":[0,0.5,1,1.5,2,2.5],"labels":false,"title":null}},"y":{"field":"y","type":"quantitative","axis":{"orient":"right","values":[0,0.3,0.6],"labels":false,"title":null}}}},
{"data":{"name":"fit"},"transform":[{"filter":"datum.q==='CFe'&&datum.s==='R'&&datum.g==='lo'"}],"mark":{"type":"line","color":"#888","strokeWidth":1,"strokeDash":[1,2],"clip":true},
 "encoding":{"x":{"field":"x","type":"quantitative","axis":null},"y":{"field":"y","type":"quantitative","axis":{"orient":"left","values":[-0.2,-0.1,0,0.1,0.2,0.3,0.4,0.5,0.6],"labels":false,"title":null,"tickSize":-4}}}},
{"data":{"name":"pts"},"transform":[{"filter":"datum.q==='CFe'&&datum.s==='R'&&datum.g==='hi'"}],"mark":{"type":"circle","size":85,"color":"#7a0fb3","opacity":1,"stroke":"#222","strokeWidth":0.8},
 "encoding":{"x":{"field":"x","type":"quantitative","axis":null},"y":{"field":"y","type":"quantitative","axis":{"orient":"right","values":[-0.2,-0.1,0,0.1,0.2,0.3,0.4,0.5,0.6],"labels":false,"title":null,"tickSize":-4}}}},
{"data":{"name":"pts"},"transform":[{"filter":"datum.q==='CFe'&&datum.s==='R'&&datum.g==='lo'"}],"mark":{"type":"square","filled":false,"size":36,"color":"#d58ae0","opacity":1,"strokeWidth":1.1},
 "encoding":{"x":{"field":"x","type":"quantitative","axis":null},"y":{"field":"y","type":"quantitative","axis":null}}}
]}
]},
{"spacing":14,"hconcat":[
{"width":286,"height":100,"resolve":{"axis":{"x":"independent","y":"independent"}},"layer":[
{"data":{"name":"pts"},"transform":[{"filter":"datum.q==='NFe'&&datum.s==='L'"}],"mark":{"type":"rule","color":"#8c8c8c","strokeWidth":1,"clip":true},
 "encoding":{"x":{"field":"x","type":"quantitative","scale":{"domain":[0,16],"nice":false,"zero":false},"axis":{"orient":"bottom","values":[0,5,10,15],"labels":false,"title":null}},
 "y":{"field":"lo","type":"quantitative","scale":{"domain":[0.3,1.2],"nice":false,"zero":false},"axis":{"orient":"left","values":[0.5,1],"format":"~g","title":"[N/Fe]","minExtent":32,"maxExtent":32}},"y2":{"field":"hi"}}},
{"data":{"name":"fit"},"transform":[{"filter":"datum.q==='NFe'&&datum.s==='L'&&datum.g==='hi'"}],"mark":{"type":"line","color":"#555","strokeWidth":1,"strokeDash":[9,4],"clip":true},
 "encoding":{"x":{"field":"x","type":"quantitative","axis":{"orient":"top","values":[0,5,10,15],"labels":false,"title":null}},"y":{"field":"y","type":"quantitative","axis":{"orient":"right","values":[0.5,1],"labels":false,"title":null}}}},
{"data":{"name":"fit"},"transform":[{"filter":"datum.q==='NFe'&&datum.s==='L'&&datum.g==='lo'"}],"mark":{"type":"line","color":"#888","strokeWidth":1,"strokeDash":[1,2],"clip":true},
 "encoding":{"x":{"field":"x","type":"quantitative","axis":{"orient":"bottom","values":[0,1,2,3,4,5,6,7,8,9,10,11,12,13,14,15,16],"labels":false,"title":null,"tickSize":-4}},"y":{"field":"y","type":"quantitative","axis":{"orient":"left","values":[0.3,0.4,0.5,0.6,0.7,0.8,0.9,1,1.1,1.2],"labels":false,"title":null,"tickSize":-4}}}},
{"data":{"name":"pts"},"transform":[{"filter":"datum.q==='NFe'&&datum.s==='L'&&datum.g==='hi'"}],"mark":{"type":"circle","size":85,"color":"#17a9b5","opacity":1,"stroke":"#222","strokeWidth":0.8},
 "encoding":{"x":{"field":"x","type":"quantitative","axis":{"orient":"top","values":[0,1,2,3,4,5,6,7,8,9,10,11,12,13,14,15,16],"labels":false,"title":null,"tickSize":-4}},"y":{"field":"y","type":"quantitative","axis":{"orient":"right","values":[0.3,0.4,0.5,0.6,0.7,0.8,0.9,1,1.1,1.2],"labels":false,"title":null,"tickSize":-4}}}},
{"data":{"name":"pts"},"transform":[{"filter":"datum.q==='NFe'&&datum.s==='L'&&datum.g==='lo'"}],"mark":{"type":"square","filled":false,"size":36,"color":"#7fe8cf","opacity":1,"strokeWidth":1.1},
 "encoding":{"x":{"field":"x","type":"quantitative","axis":null},"y":{"field":"y","type":"quantitative","axis":null}}}
]},
{"width":286,"height":100,"resolve":{"axis":{"x":"independent","y":"independent"}},"layer":[
{"data":{"name":"pts"},"transform":[{"filter":"datum.q==='NFe'&&datum.s==='R'"}],"mark":{"type":"rule","color":"#8c8c8c","strokeWidth":1,"clip":true},
 "encoding":{"x":{"field":"x","type":"quantitative","scale":{"domain":[0,2.88],"nice":false,"zero":false},"axis":{"orient":"bottom","values":[0,0.5,1,1.5,2,2.5],"labels":false,"title":null}},
 "y":{"field":"lo","type":"quantitative","scale":{"domain":[0.3,1.2],"nice":false,"zero":false},"axis":{"orient":"left","values":[0.5,1],"labels":false,"title":null}},"y2":{"field":"hi"}}},
{"data":{"name":"fit"},"transform":[{"filter":"datum.q==='NFe'&&datum.s==='R'&&datum.g==='hi'"}],"mark":{"type":"line","color":"#555","strokeWidth":1,"strokeDash":[9,4],"clip":true},
 "encoding":{"x":{"field":"x","type":"quantitative","axis":{"orient":"top","values":[0,0.5,1,1.5,2,2.5],"labels":false,"title":null}},"y":{"field":"y","type":"quantitative","axis":{"orient":"right","values":[0.5,1],"labels":false,"title":null}}}},
{"data":{"name":"fit"},"transform":[{"filter":"datum.q==='NFe'&&datum.s==='R'&&datum.g==='lo'"}],"mark":{"type":"line","color":"#888","strokeWidth":1,"strokeDash":[1,2],"clip":true},
 "encoding":{"x":{"field":"x","type":"quantitative","axis":null},"y":{"field":"y","type":"quantitative","axis":{"orient":"left","values":[0.3,0.4,0.5,0.6,0.7,0.8,0.9,1,1.1,1.2],"labels":false,"title":null,"tickSize":-4}}}},
{"data":{"name":"pts"},"transform":[{"filter":"datum.q==='NFe'&&datum.s==='R'&&datum.g==='hi'"}],"mark":{"type":"circle","size":85,"color":"#17a9b5","opacity":1,"stroke":"#222","strokeWidth":0.8},
 "encoding":{"x":{"field":"x","type":"quantitative","axis":null},"y":{"field":"y","type":"quantitative","axis":{"orient":"right","values":[0.3,0.4,0.5,0.6,0.7,0.8,0.9,1,1.1,1.2],"labels":false,"title":null,"tickSize":-4}}}},
{"data":{"name":"pts"},"transform":[{"filter":"datum.q==='NFe'&&datum.s==='R'&&datum.g==='lo'"}],"mark":{"type":"square","filled":false,"size":36,"color":"#7fe8cf","opacity":1,"strokeWidth":1.1},
 "encoding":{"x":{"field":"x","type":"quantitative","axis":null},"y":{"field":"y","type":"quantitative","axis":null}}}
]}
]},
{"spacing":14,"hconcat":[
{"width":286,"height":100,"resolve":{"axis":{"x":"independent","y":"independent"}},"layer":[
{"data":{"name":"pts"},"transform":[{"filter":"datum.q==='CaFe'&&datum.s==='L'"}],"mark":{"type":"rule","color":"#8c8c8c","strokeWidth":1,"clip":true},
 "encoding":{"x":{"field":"x","type":"quantitative","scale":{"domain":[0,16],"nice":false,"zero":false},"axis":{"orient":"bottom","values":[0,5,10,15],"format":"~g","title":"Radius (kpc)"}},
 "y":{"field":"lo","type":"quantitative","scale":{"domain":[-0.15,0.3],"nice":false,"zero":false},"axis":{"orient":"left","values":[-0.1,0,0.1,0.2],"format":"~g","labelExpr":"round(datum.value*10) % 2 === 0 ? datum.label : ''","title":"[Ca/Fe]","minExtent":32,"maxExtent":32}},"y2":{"field":"hi"}}},
{"data":{"name":"fit"},"transform":[{"filter":"datum.q==='CaFe'&&datum.s==='L'&&datum.g==='hi'"}],"mark":{"type":"line","color":"#555","strokeWidth":1,"strokeDash":[9,4],"clip":true},
 "encoding":{"x":{"field":"x","type":"quantitative","axis":{"orient":"top","values":[0,5,10,15],"labels":false,"title":null}},"y":{"field":"y","type":"quantitative","axis":{"orient":"right","values":[-0.1,0,0.1,0.2],"labels":false,"title":null}}}},
{"data":{"name":"fit"},"transform":[{"filter":"datum.q==='CaFe'&&datum.s==='L'&&datum.g==='lo'"}],"mark":{"type":"line","color":"#888","strokeWidth":1,"strokeDash":[1,2],"clip":true},
 "encoding":{"x":{"field":"x","type":"quantitative","axis":{"orient":"bottom","values":[0,1,2,3,4,5,6,7,8,9,10,11,12,13,14,15,16],"labels":false,"title":null,"tickSize":-4}},"y":{"field":"y","type":"quantitative","axis":{"orient":"left","values":[-0.15,-0.1,-0.05,0,0.05,0.1,0.15,0.2,0.25,0.3],"labels":false,"title":null,"tickSize":-4}}}},
{"data":{"name":"pts"},"transform":[{"filter":"datum.q==='CaFe'&&datum.s==='L'&&datum.g==='hi'"}],"mark":{"type":"circle","size":85,"color":"#f06a3c","opacity":1,"stroke":"#222","strokeWidth":0.8},
 "encoding":{"x":{"field":"x","type":"quantitative","axis":{"orient":"top","values":[0,1,2,3,4,5,6,7,8,9,10,11,12,13,14,15,16],"labels":false,"title":null,"tickSize":-4}},"y":{"field":"y","type":"quantitative","axis":{"orient":"right","values":[-0.15,-0.1,-0.05,0,0.05,0.1,0.15,0.2,0.25,0.3],"labels":false,"title":null,"tickSize":-4}}}},
{"data":{"name":"pts"},"transform":[{"filter":"datum.q==='CaFe'&&datum.s==='L'&&datum.g==='lo'"}],"mark":{"type":"square","filled":false,"size":36,"color":"#e6e69a","opacity":1,"strokeWidth":1.1},
 "encoding":{"x":{"field":"x","type":"quantitative","axis":null},"y":{"field":"y","type":"quantitative","axis":null}}}
]},
{"width":286,"height":100,"resolve":{"axis":{"x":"independent","y":"independent"}},"layer":[
{"data":{"name":"pts"},"transform":[{"filter":"datum.q==='CaFe'&&datum.s==='R'"}],"mark":{"type":"rule","color":"#8c8c8c","strokeWidth":1,"clip":true},
 "encoding":{"x":{"field":"x","type":"quantitative","scale":{"domain":[0,2.88],"nice":false,"zero":false},"axis":{"orient":"bottom","values":[0,0.5,1,1.5,2,2.5],"format":"~g","labelExpr":"datum.value % 1 === 0 ? datum.label : ''","title":"Radius (Rₑ)"}},
 "y":{"field":"lo","type":"quantitative","scale":{"domain":[-0.15,0.3],"nice":false,"zero":false},"axis":{"orient":"left","values":[-0.1,0,0.1,0.2],"labels":false,"title":null}},"y2":{"field":"hi"}}},
{"data":{"name":"fit"},"transform":[{"filter":"datum.q==='CaFe'&&datum.s==='R'&&datum.g==='hi'"}],"mark":{"type":"line","color":"#555","strokeWidth":1,"strokeDash":[9,4],"clip":true},
 "encoding":{"x":{"field":"x","type":"quantitative","axis":{"orient":"top","values":[0,0.5,1,1.5,2,2.5],"labels":false,"title":null}},"y":{"field":"y","type":"quantitative","axis":{"orient":"right","values":[-0.1,0,0.1,0.2],"labels":false,"title":null}}}},
{"data":{"name":"fit"},"transform":[{"filter":"datum.q==='CaFe'&&datum.s==='R'&&datum.g==='lo'"}],"mark":{"type":"line","color":"#888","strokeWidth":1,"strokeDash":[1,2],"clip":true},
 "encoding":{"x":{"field":"x","type":"quantitative","axis":null},"y":{"field":"y","type":"quantitative","axis":{"orient":"left","values":[-0.15,-0.1,-0.05,0,0.05,0.1,0.15,0.2,0.25,0.3],"labels":false,"title":null,"tickSize":-4}}}},
{"data":{"name":"pts"},"transform":[{"filter":"datum.q==='CaFe'&&datum.s==='R'&&datum.g==='hi'"}],"mark":{"type":"circle","size":85,"color":"#f06a3c","opacity":1,"stroke":"#222","strokeWidth":0.8},
 "encoding":{"x":{"field":"x","type":"quantitative","axis":null},"y":{"field":"y","type":"quantitative","axis":{"orient":"right","values":[-0.15,-0.1,-0.05,0,0.05,0.1,0.15,0.2,0.25,0.3],"labels":false,"title":null,"tickSize":-4}}}},
{"data":{"name":"pts"},"transform":[{"filter":"datum.q==='CaFe'&&datum.s==='R'&&datum.g==='lo'"}],"mark":{"type":"square","filled":false,"size":36,"color":"#e6e69a","opacity":1,"strokeWidth":1.1},
 "encoding":{"x":{"field":"x","type":"quantitative","axis":null},"y":{"field":"y","type":"quantitative","axis":null}}}
]}
]}
]}
]
}
